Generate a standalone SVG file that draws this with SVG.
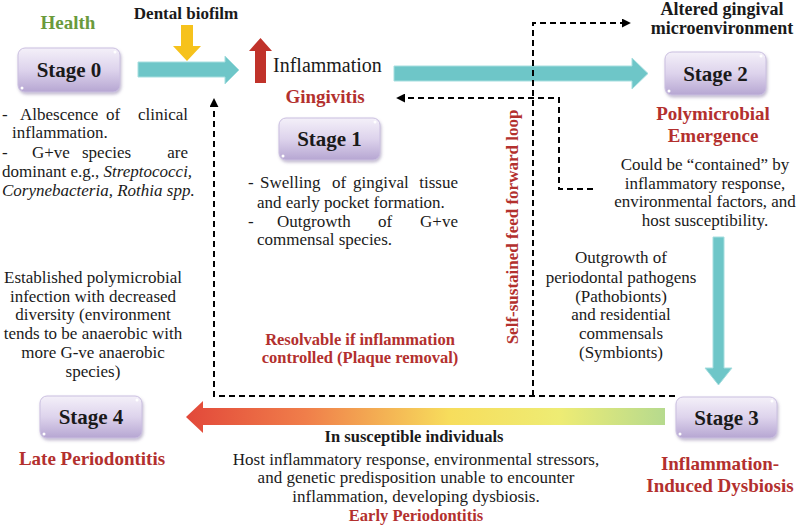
<svg xmlns="http://www.w3.org/2000/svg" width="800" height="528" viewBox="0 0 800 528">
<style>
.dummy{fill:none}
text{fill:#1a1a1a}
.b{font-size:17px}
.s{font-size:17px}
.bold{font-weight:bold}
.red{fill:#b3302e;font-weight:bold}
.stage{font-size:21px;font-weight:bold;text-anchor:middle}
.box{fill:url(#boxg);stroke:#cabfe0;stroke-width:1;filter:url(#sh)}
.dot{fill:#fff}
.teal{fill:#6ec6c8;stroke:#a6dedf;stroke-width:1}
.dash{fill:none;stroke:#000;stroke-width:2;stroke-dasharray:6,4}
.c{text-anchor:middle}
</style>
<defs>
<linearGradient id="boxg" x1="0" y1="0" x2="0" y2="1">
<stop offset="0" stop-color="#f4f0f9"/>
<stop offset="0.5" stop-color="#ddd3ec"/>
<stop offset="1" stop-color="#b6a6d2"/>
</linearGradient>
<linearGradient id="rainbow" x1="0" y1="0" x2="1" y2="0">
<stop offset="0" stop-color="#e2483a"/>
<stop offset="0.25" stop-color="#f07e4a"/>
<stop offset="0.55" stop-color="#f7dd5c"/>
<stop offset="0.78" stop-color="#eeec74"/>
<stop offset="1" stop-color="#b6da8e"/>
</linearGradient>
<filter id="sh" x="-10%" y="-10%" width="130%" height="140%">
<feDropShadow dx="1" dy="2" stdDeviation="1.5" flood-color="#7a6a9a" flood-opacity="0.45"/>
</filter>
<marker id="ah" viewBox="0 0 10 10" refX="9" refY="5" markerWidth="9" markerHeight="9" markerUnits="userSpaceOnUse" orient="auto">
<path d="M0,0 L10,5 L0,10 z" fill="#000"/>
</marker>
</defs>

<g id="connectors">
<polygon class="teal" points="138,62 225,62 225,56 239,70 225,84 225,77 138,77"/>
<polygon class="teal" points="394,66 632,66 632,58 648,73.5 632,89 632,81 394,81"/>
<polygon class="teal" points="713,237 724,237 724,368 732,368 718.5,385 705,368 713,368"/>
<polygon fill="url(#rainbow)" points="665,408 203,408 203,401 186,417 203,433 203,425 665,425"/>
<polygon fill="#f6c21c" points="181,25 193,25 193,46 201,46 187,61 173,46 181,46"/>
<polygon fill="#c0322a" points="255,83 266,83 266,51 272,51 260.5,38 249,51 255,51"/>
<path class="dash" d="M675,396 H214 V99" marker-end="url(#ah)"/>
<path class="dash" d="M533,396 V23 H630" marker-end="url(#ah)"/>
<path class="dash" d="M593,189 H559 V98 H397" marker-end="url(#ah)"/>
</g>

<g id="stage0">
<text font-family="Liberation Serif" x="68" y="29" class="c bold" font-size="19" style="fill:#6a9a3c">Health</text>
<rect class="box" x="18" y="48" width="102" height="44" rx="7"/>
<circle class="dot" cx="115" cy="52" r="1.5"/><circle class="dot" cx="22" cy="88" r="1.5"/>
<text font-family="Liberation Serif" x="69" y="77" class="stage">Stage 0</text>
<text font-family="Liberation Serif" class="s" y="120"><tspan x="2">-</tspan><tspan x="20">Albescence</tspan><tspan x="106">of</tspan><tspan x="188" text-anchor="end">clinical</tspan></text>
<text font-family="Liberation Serif" class="s" x="12" y="138">inflammation.</text>
<text font-family="Liberation Serif" class="s" y="158"><tspan x="2">-</tspan><tspan x="32">G+ve</tspan><tspan x="82">species</tspan><tspan x="188" text-anchor="end">are</tspan></text>
<text font-family="Liberation Serif" class="s" x="2" y="177">dominant e.g., <tspan font-style="italic">Streptococci,</tspan></text>
<text font-family="Liberation Serif" class="s" x="2" y="196" font-style="italic">Corynebacteria, Rothia spp.</text>
</g>

<g id="biofilm">
<text font-family="Liberation Serif" x="186" y="19" class="c bold" font-size="17">Dental biofilm</text>
</g>

<g id="inflammation">
<text font-family="Liberation Serif" x="273" y="72" font-size="20">Inflammation</text>
</g>

<g id="stage1">
<text font-family="Liberation Serif" x="325" y="103" class="c red" font-size="19">Gingivitis</text>
<rect class="box" x="279" y="118" width="101" height="42" rx="7"/>
<circle class="dot" cx="375" cy="122" r="1.5"/><circle class="dot" cx="283" cy="156" r="1.5"/>
<text font-family="Liberation Serif" x="329.5" y="146" class="stage">Stage 1</text>
<text font-family="Liberation Serif" class="s" y="188"><tspan x="248">-</tspan><tspan x="260">Swelling</tspan><tspan x="332">of</tspan><tspan x="353">gingival</tspan><tspan x="458" text-anchor="end">tissue</tspan></text>
<text font-family="Liberation Serif" class="s" x="257" y="208">and early pocket formation.</text>
<text font-family="Liberation Serif" class="s" y="227"><tspan x="248">-</tspan><tspan x="277">Outgrowth</tspan><tspan x="378">of</tspan><tspan x="458" text-anchor="end">G+ve</tspan></text>
<text font-family="Liberation Serif" class="s" x="257" y="245">commensal species.</text>
</g>

<g id="resolvable">
<text font-family="Liberation Serif" x="360" y="345" class="c red" font-size="16.5">Resolvable if inflammation</text>
<text font-family="Liberation Serif" x="360" y="363" class="c red" font-size="16.5">controlled (Plaque removal)</text>
</g>

<g id="loop">
<text font-family="Liberation Serif" transform="translate(518,227) rotate(-90)" class="c red" font-size="17">Self-sustained feed forward loop</text>
</g>

<g id="altered">
<text font-family="Liberation Serif" x="722" y="15" class="c bold" font-size="18">Altered gingival</text>
<text font-family="Liberation Serif" x="722" y="34" class="c bold" font-size="18">microenvironment</text>
</g>

<g id="stage2">
<rect class="box" x="665" y="52" width="101" height="43" rx="7"/>
<circle class="dot" cx="761" cy="56" r="1.5"/><circle class="dot" cx="669" cy="91" r="1.5"/>
<text font-family="Liberation Serif" x="715.5" y="81" class="stage">Stage 2</text>
<text font-family="Liberation Serif" x="713" y="120" class="c red" font-size="19">Polymicrobial</text>
<text font-family="Liberation Serif" x="713" y="142" class="c red" font-size="19">Emergence</text>
<text font-family="Liberation Serif" class="b c" x="705" y="170">Could be “contained” by</text>
<text font-family="Liberation Serif" class="b c" x="705" y="189">inflammatory response,</text>
<text font-family="Liberation Serif" class="b c" x="705" y="207">environmental factors, and</text>
<text font-family="Liberation Serif" class="b c" x="705" y="226">host susceptibility.</text>
</g>

<g id="outgrowth">
<text font-family="Liberation Serif" class="b c" x="621" y="263">Outgrowth of</text>
<text font-family="Liberation Serif" class="b c" x="621" y="283">periodontal pathogens</text>
<text font-family="Liberation Serif" class="b c" x="621" y="302">(Pathobionts)</text>
<text font-family="Liberation Serif" class="b c" x="621" y="320">and residential</text>
<text font-family="Liberation Serif" class="b c" x="621" y="339">commensals</text>
<text font-family="Liberation Serif" class="b c" x="621" y="358">(Symbionts)</text>
</g>

<g id="stage3">
<rect class="box" x="676" y="397" width="101" height="41" rx="7"/>
<circle class="dot" cx="772" cy="401" r="1.5"/><circle class="dot" cx="680" cy="434" r="1.5"/>
<text font-family="Liberation Serif" x="726.5" y="425" class="stage">Stage 3</text>
<text font-family="Liberation Serif" x="720" y="470" class="c red" font-size="19">Inflammation-</text>
<text font-family="Liberation Serif" x="720" y="492" class="c red" font-size="19">Induced Dysbiosis</text>
</g>

<g id="established">
<text font-family="Liberation Serif" class="b c" x="93" y="283">Established polymicrobial</text>
<text font-family="Liberation Serif" class="b c" x="93" y="302">infection with decreased</text>
<text font-family="Liberation Serif" class="b c" x="93" y="320">diversity (environment</text>
<text font-family="Liberation Serif" class="b c" x="93" y="339">tends to be anaerobic with</text>
<text font-family="Liberation Serif" class="b c" x="93" y="358">more G-ve anaerobic</text>
<text font-family="Liberation Serif" class="b c" x="93" y="377">species)</text>
</g>

<g id="stage4">
<rect class="box" x="40" y="396" width="102" height="42" rx="7"/>
<circle class="dot" cx="137" cy="400" r="1.5"/><circle class="dot" cx="44" cy="434" r="1.5"/>
<text font-family="Liberation Serif" x="91" y="424" class="stage">Stage 4</text>
<text font-family="Liberation Serif" x="92" y="465" class="c red" font-size="19">Late Periodontitis</text>
</g>

<g id="susceptible">
<text font-family="Liberation Serif" x="414" y="442" class="c bold" font-size="16.5">In susceptible individuals</text>
<text font-family="Liberation Serif" class="b c" x="416" y="465">Host inflammatory response, environmental stressors,</text>
<text font-family="Liberation Serif" class="b c" x="416" y="483">and genetic predisposition unable to encounter</text>
<text font-family="Liberation Serif" class="b c" x="416" y="502">inflammation, developing dysbiosis.</text>
<text font-family="Liberation Serif" x="416" y="521" class="c red" font-size="16.5">Early Periodontitis</text>
</g>
</svg>
